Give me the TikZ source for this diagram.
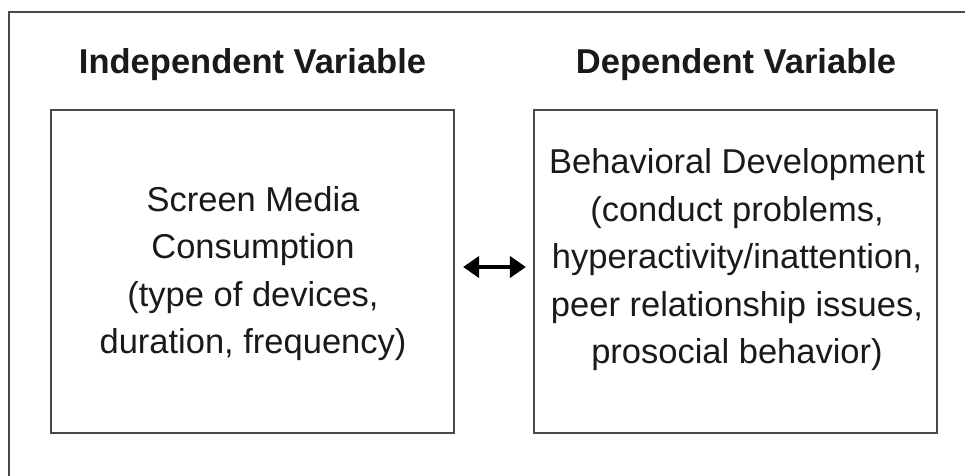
\documentclass[tikz,border=0pt]{standalone}
\usepackage{fontspec}
\setmainfont{Liberation Sans}
\usetikzlibrary{arrows.meta}
\definecolor{linegray}{HTML}{4A4A4A}
\definecolor{ink}{HTML}{1A1A1A}
\tikzset{
  frameline/.style={draw=linegray, line width=2.2pt},
  varbox/.style={draw=linegray, line width=2.2pt, minimum width=403pt, minimum height=323pt, inner sep=0pt},
  title/.style={font=\fontsize{34.5}{41}\selectfont\bfseries, text=ink, anchor=base, inner sep=0pt},
  body/.style={font=\fontsize{34.5}{47.5}\selectfont, text=ink, align=center, inner sep=0pt},
  biarrow/.style={{Triangle[length=16pt,width=21pt]}-{Triangle[length=16pt,width=21pt]}, line width=4.5pt, draw=black}
}
\begin{document}
\begin{tikzpicture}[x=1pt,y=1pt]
\useasboundingbox (0,0) rectangle (965,475);
\fill[white] (0,0) rectangle (965,475);
% outer frame (left and top edges visible)
\draw[frameline] (9,-5) -- (9,463) -- (970,463);
% titles
\node[title] (ivt) at (252.5,402) {Independent Variable};
\node[title] (dvt) at (736,402) {Dependent Variable};
% boxes
\node[varbox] (iv) at (252.5,203.5) {};
\node[varbox] (dv) at (735.5,203.5) {};
% box texts
\node[body] (ivtext) at (253,201.5) {Screen Media\\Consumption\\(type of devices,\\duration, frequency)};
\node[body] (dvtext) at (737,215) {Behavioral Development\\(conduct problems,\\hyperactivity/inattention,\\peer relationship issues,\\prosocial behavior)};
% connector
\draw[biarrow, shorten <=8pt, shorten >=7pt] ([yshift=4.5pt]iv.east) -- ([yshift=4.5pt]dv.west);
\end{tikzpicture}
\end{document}
